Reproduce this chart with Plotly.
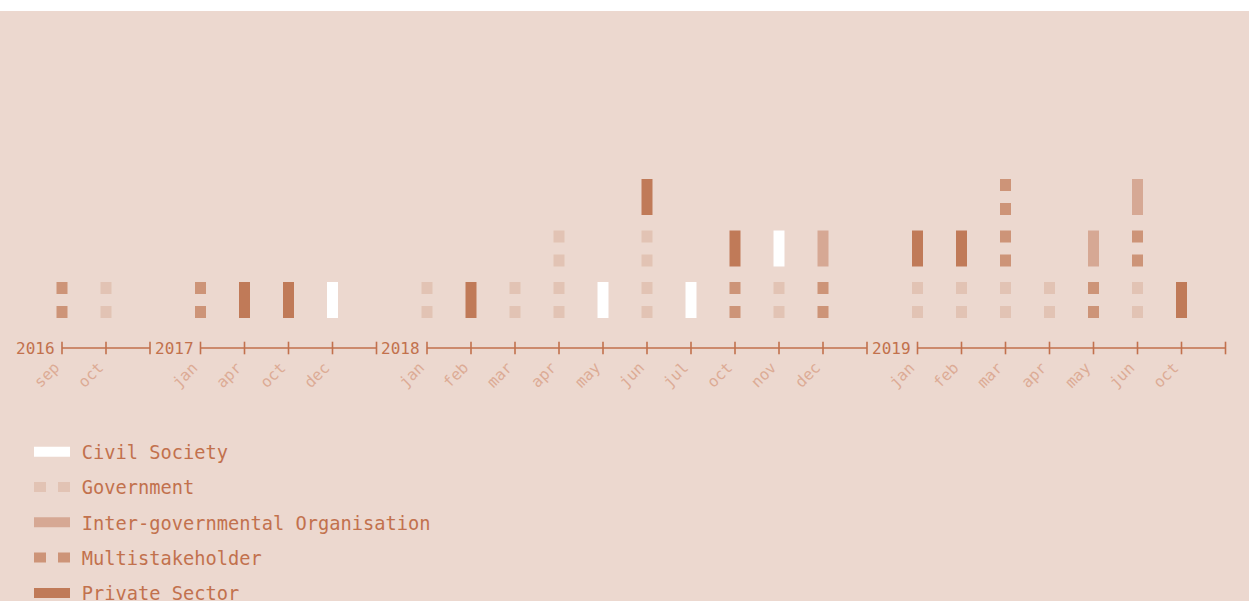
import plotly.graph_objects as go

# ---------------- data ----------------
years = ["2016", "2017", "2018", "2019"]
months_2016 = ["sep", "oct"]
months_2017 = ["jan", "apr", "oct", "dec"]
months_2018 = ["jan", "feb", "mar", "apr", "may", "jun", "jul", "oct", "nov", "dec"]
months_2019 = ["jan", "feb", "mar", "apr", "may", "jun", "oct"]

# counts of items per month (months in the order above, all years concatenated)
civil_society = [0, 0, 0, 0, 0, 1, 0, 0, 0, 0, 1, 0, 1, 0, 1, 0, 0, 0, 0, 0, 0, 0, 0]
government = [0, 1, 0, 0, 0, 0, 1, 0, 1, 2, 0, 2, 0, 0, 1, 0, 1, 1, 1, 1, 0, 1, 0]
inter_gov = [0, 0, 0, 0, 0, 0, 0, 0, 0, 0, 0, 0, 0, 0, 0, 1, 0, 0, 0, 0, 1, 1, 0]
multistakeholder = [1, 0, 1, 0, 0, 0, 0, 0, 0, 0, 0, 0, 0, 1, 0, 1, 0, 0, 2, 0, 1, 1, 0]
private_sector = [0, 0, 0, 1, 1, 0, 0, 1, 0, 0, 0, 1, 0, 1, 0, 0, 1, 1, 0, 0, 0, 0, 1]

categories = ["Civil Society", "Government", "Inter-governmental Organisation",
              "Multistakeholder", "Private Sector"]
# ---------------- style ----------------
BG = "#ecd8cf"
AXIS_C = "#c2714d"
MONTH_C = "#dcab95"
colors = {
    "Civil Society": "#ffffff",
    "Government": "#e2c3b4",
    "Inter-governmental Organisation": "#d6a894",
    "Multistakeholder": "#cd9478",
    "Private Sector": "#c07a58",
}
dashes = {
    "Civil Society": "solid",
    "Government": "12px,12px",
    "Inter-governmental Organisation": "solid",
    "Multistakeholder": "12px,12px",
    "Private Sector": "solid",
}
FONT = "DejaVu Sans Mono"

W, H = 1249, 601
PX_PER_MONTH = 44.0
GAP_UNITS = 50.5 / PX_PER_MONTH      # gap between year segments
STEP_PX = 51.5                       # vertical step between stacked items
ITEM_UNITS = 36.0 / STEP_PX          # item height in stack units
TOP_PX, BASE_PX, AXIS_PX, PLOT_BOTTOM_PX = 11, 318, 348, 356
FIRST_PX = 62

# ---------------- positions ----------------
year_months = [months_2016, months_2017, months_2018, months_2019]
month_x, month_lab, seg_start, seg_end = [], [], [], []
cur = 0.0
for ms in year_months:
    seg_start.append(cur)
    for i, m in enumerate(ms):
        month_x.append(cur + i)
        month_lab.append(m)
    seg_end.append(cur + len(ms))
    cur = cur + len(ms) + GAP_UNITS

counts = {
    "Civil Society": civil_society,
    "Government": government,
    "Inter-governmental Organisation": inter_gov,
    "Multistakeholder": multistakeholder,
    "Private Sector": private_sector,
}
stack_order = ["Government", "Multistakeholder", "Civil Society",
               "Inter-governmental Organisation", "Private Sector"]

seg_x = {c: [] for c in categories}
seg_y = {c: [] for c in categories}
for j, x in enumerate(month_x):
    level = 0
    for c in stack_order:
        for _ in range(counts[c][j]):
            seg_x[c] += [x, x, None]
            seg_y[c] += [level, level + ITEM_UNITS, None]
            level += 1

y_axis_val = -(AXIS_PX - BASE_PX) / STEP_PX
y_lo = -(PLOT_BOTTOM_PX - BASE_PX) / STEP_PX
y_hi = (BASE_PX - TOP_PX) / STEP_PX
x_lo = -FIRST_PX / PX_PER_MONTH
x_hi = (W - FIRST_PX) / PX_PER_MONTH
plot_h = PLOT_BOTTOM_PX - TOP_PX

fig = go.Figure()

for k, c in enumerate(categories):
    fig.add_trace(go.Scatter(
        x=seg_x[c], y=seg_y[c], mode="lines",
        name='<span style="font-size:11px"> </span>' + c,
        legendgroup=c,
        line=dict(color=colors[c], width=11, dash=dashes[c]),
        hoverinfo="skip",
    ))

for k in range(len(years)):
    xs = [seg_start[k] + i for i in range(int(round(seg_end[k] - seg_start[k])) + 1)]
    fig.add_trace(go.Scatter(
        x=xs, y=[y_axis_val] * len(xs), mode="lines+markers",
        line=dict(color=AXIS_C, width=1.6),
        marker=dict(symbol="line-ns", size=9, line=dict(color=AXIS_C, width=1.6)),
        showlegend=False, hoverinfo="skip", cliponaxis=False,
    ))
    fig.add_annotation(
        x=seg_start[k], y=y_axis_val, text=years[k], showarrow=False,
        xanchor="right", yanchor="middle", xshift=-5,
        font=dict(family=FONT, size=16, color=AXIS_C),
    )

for x, m in zip(month_x, month_lab):
    fig.add_annotation(
        x=x, y=y_axis_val, text=m, showarrow=False, textangle=-45,
        xanchor="right", yanchor="top", xshift=4, yshift=-8,
        font=dict(family=FONT, size=15.5, color=MONTH_C),
    )

fig.add_shape(type="rect", xref="paper", yref="paper", x0=0, x1=1,
              y0=1, y1=1 + TOP_PX / plot_h + 0.01, fillcolor="white",
              line=dict(width=0), layer="above")

fig.update_layout(
    width=W, height=H,
    margin=dict(l=0, r=0, t=TOP_PX, b=H - PLOT_BOTTOM_PX, autoexpand=False),
    paper_bgcolor=BG, plot_bgcolor=BG,
    font=dict(family=FONT, color=AXIS_C),
    showlegend=True,
    legend=dict(
        x=29 / W, y=-(433 - PLOT_BOTTOM_PX) / plot_h, xanchor="left", yanchor="top",
        font=dict(family=FONT, size=18.7, color=AXIS_C),
        tracegroupgap=8.0, itemwidth=36, bgcolor="rgba(0,0,0,0)",
    ),
    xaxis=dict(
        range=[x_lo, x_hi], showticklabels=False, ticks="",
        showgrid=False, zeroline=False, showline=False, fixedrange=True,
    ),
    yaxis=dict(range=[y_lo, y_hi], visible=False, fixedrange=True),
)

fig.write_html("out.html", config={"displayModeBar": False},
               post_script="document.body.style.margin='0';")
